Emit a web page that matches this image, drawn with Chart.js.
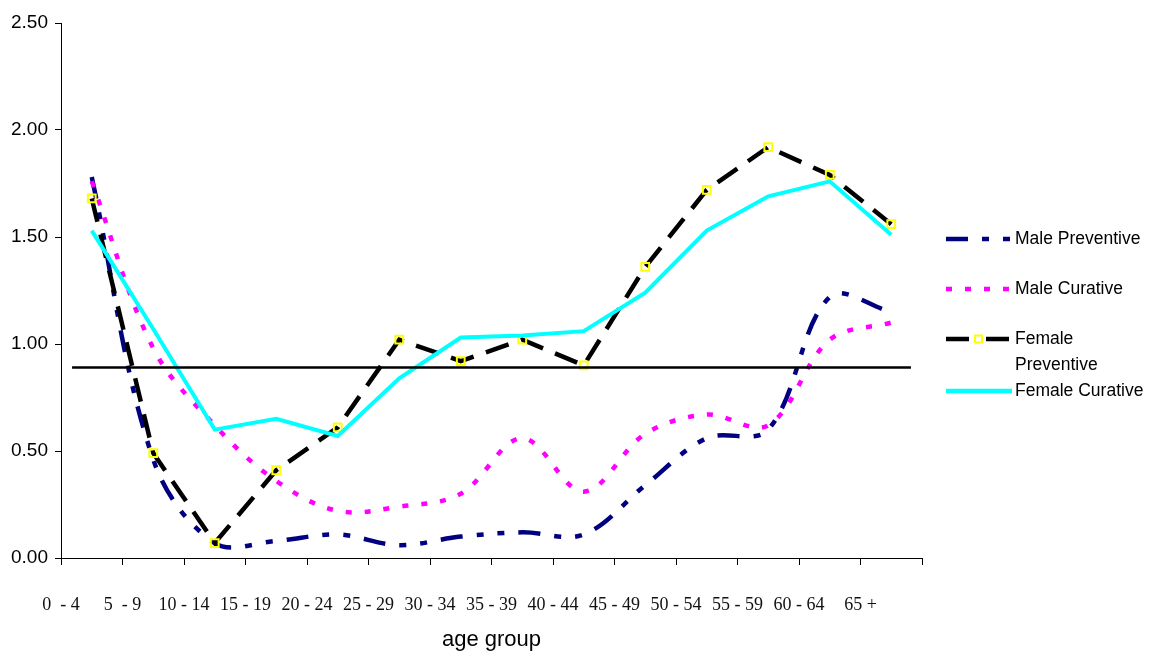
<!DOCTYPE html>
<html>
<head>
<meta charset="utf-8">
<script src="https://cdn.jsdelivr.net/npm/chart.js@4.4.1/dist/chart.umd.min.js"></script>
<style>
  html, body { margin: 0; padding: 0; background: #ffffff; }
  #wrap { width: 1149px; height: 653px; position: relative; }
</style>
</head>
<body>
<div id="wrap"><canvas id="chart"></canvas></div>
<script>
// Age groups on the horizontal axis
const ageGroups = ['0  - 4', '5  - 9', '10 - 14', '15 - 19', '20 - 24', '25 - 29', '30 - 34',
                   '35 - 39', '40 - 44', '45 - 49', '50 - 54', '55 - 59', '60 - 64', '65 +'];

// Ratios per age group
const malePreventive   = [1.78, 0.46, 0.07, 0.08, 0.11, 0.06, 0.10, 0.12, 0.11, 0.34, 0.56, 0.60, 1.22, 1.15];
const maleCurative     = [1.76, 0.98, 0.62, 0.36, 0.22, 0.24, 0.30, 0.56, 0.31, 0.58, 0.67, 0.62, 1.02, 1.10];
const femalePreventive = [1.68, 0.49, 0.07, 0.41, 0.61, 1.02, 0.92, 1.02, 0.90, 1.36, 1.72, 1.92, 1.79, 1.56];
const femaleCurative   = [1.53, 1.07, 0.60, 0.65, 0.57, 0.84, 1.03, 1.04, 1.06, 1.24, 1.53, 1.69, 1.76, 1.51];

// Reference level drawn across the plot
const referenceLevel = 0.89;
const referenceSpan = [0.18, 13.82];

// Value axis ticks
const yTicks = [0, 0.5, 1.0, 1.5, 2.0, 2.5];

const seriesNames = ['Male Preventive', 'Male Curative', 'Female Preventive', 'Female Curative'];

const NAVY = '#000080', MAGENTA = '#FF00FF', BLACK = '#000000', CYAN = '#00FFFF', YELLOW = '#FFFF00';
const DASH_MP = [22, 14, 7, 14, 7, 14];
const DASH_MC = [6, 13];
const DASH_FP = [24, 13];

// Legend drawn beside the plot, one entry per series
const sideLegend = {
  id: 'sideLegend',
  afterDraw(chart) {
    const ctx = chart.ctx;
    const x0 = 946, x1 = 1012, tx = 1015;
    const items = [
      { lines: [seriesNames[0]], y: 239, color: NAVY, dash: DASH_MP },
      { lines: [seriesNames[1]], y: 289, color: MAGENTA, dash: DASH_MC },
      { lines: ['Female', 'Preventive'], y: 339, color: BLACK, dash: [23, 17], marker: true },
      { lines: [seriesNames[3]], y: 391, color: CYAN, dash: [] }
    ];
    ctx.save();
    items.forEach(it => {
      ctx.beginPath();
      ctx.setLineDash(it.dash);
      ctx.lineCap = 'butt';
      ctx.lineWidth = 4.5;
      ctx.strokeStyle = it.color;
      ctx.moveTo(x0, it.y);
      ctx.lineTo(x1, it.y);
      ctx.stroke();
      ctx.setLineDash([]);
      if (it.marker) {
        ctx.fillStyle = '#ffffff';
        ctx.fillRect(975, it.y - 3.5, 7, 7);
        ctx.lineWidth = 2;
        ctx.strokeStyle = YELLOW;
        ctx.strokeRect(975, it.y - 3.5, 7, 7);
      }
      ctx.fillStyle = '#000000';
      ctx.font = '17.5px "Liberation Sans", Arial, sans-serif';
      ctx.textBaseline = 'middle';
      ctx.textAlign = 'left';
      it.lines.forEach((t, i) => ctx.fillText(t, tx, it.y + i * 26));
    });
    ctx.restore();
  }
};

const ctx = document.getElementById('chart').getContext('2d');
new Chart(ctx, {
  type: 'line',
  data: {
    labels: ageGroups,
    datasets: [
      {
        label: seriesNames[0], data: malePreventive,
        borderColor: NAVY, borderWidth: 4.5, borderDash: DASH_MP,
        tension: 0.35, pointRadius: 0, fill: false, order: 4
      },
      {
        label: seriesNames[1], data: maleCurative,
        borderColor: MAGENTA, borderWidth: 4.5, borderDash: DASH_MC,
        tension: 0.35, pointRadius: 0, fill: false, order: 3
      },
      {
        label: seriesNames[2], data: femalePreventive,
        borderColor: BLACK, borderWidth: 4.5, borderDash: DASH_FP,
        tension: 0, fill: false, order: 2,
        pointStyle: 'rect', pointRadius: 5.5, pointBorderWidth: 2,
        pointBorderColor: YELLOW, pointBackgroundColor: 'rgba(0,0,0,0)'
      },
      {
        label: seriesNames[3], data: femaleCurative,
        borderColor: CYAN, borderWidth: 4, tension: 0, pointRadius: 0, fill: false, order: 1
      },
      {
        label: 'reference', data: referenceSpan.map(x => ({ x: x, y: referenceLevel })),
        xAxisID: 'xRef', borderColor: BLACK, borderWidth: 2.5, pointRadius: 0,
        tension: 0, fill: false, order: 0
      }
    ]
  },
  options: {
    responsive: true,
    maintainAspectRatio: false,
    animation: false,
    events: [],
    layout: { padding: { top: 23, right: 227, bottom: 0, left: 0 } },
    plugins: {
      legend: { display: false },
      tooltip: { enabled: false },
      title: { display: false }
    },
    scales: {
      x: {
        type: 'category',
        offset: true,
        grid: { offset: true, drawOnChartArea: false, drawTicks: true, tickLength: 7, color: '#000000' },
        border: { display: true, color: '#000000', width: 1 },
        ticks: {
          autoSkip: false, maxRotation: 0, minRotation: 0,
          labelOffset: -30.75, padding: 29,
          color: '#111111',
          font: { family: '"Liberation Serif", "Times New Roman", serif', size: 18 }
        },
        title: {
          display: true, text: 'age group', color: '#000000',
          font: { family: '"Liberation Sans", Arial, sans-serif', size: 22 },
          padding: { top: 0, bottom: 0 }
        },
        afterFit(scale) { scale.height = 95; }
      },
      xRef: {
        type: 'linear', display: false, min: 0, max: ageGroups.length, offset: false
      },
      y: {
        min: 0, max: 2.5,
        afterBuildTicks(scale) { scale.ticks = yTicks.map(v => ({ value: v })); },
        grid: { drawOnChartArea: false, drawTicks: true, tickLength: 6, color: '#000000' },
        border: { display: true, color: '#000000', width: 1 },
        ticks: {
          padding: 7, color: '#000000',
          font: { family: '"Liberation Sans", Arial, sans-serif', size: 19 },
          callback: v => Number(v).toFixed(2)
        },
        afterFit(scale) { scale.width = 61; }
      }
    }
  },
  plugins: [sideLegend]
});
</script>
</body>
</html>
